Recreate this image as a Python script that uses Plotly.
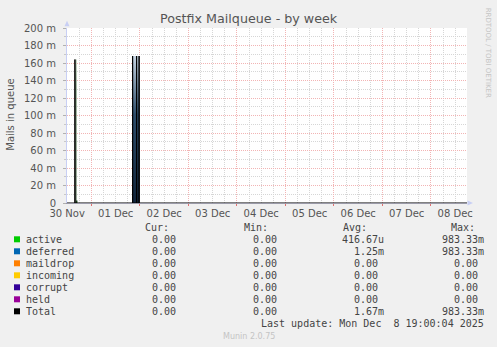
import plotly.graph_objects as go

# ---------------- data ----------------
# Total drawn as thin vertical spikes (time, value) pairs
total_t = ["2025-11-30 11:55", "2025-11-30 15:50", "2025-11-30 15:50", "2025-11-30 15:50",
           "2025-12-01 20:23", "2025-12-01 20:23", "2025-12-01 20:23",
           "2025-12-01 22:22", "2025-12-01 22:22", "2025-12-01 22:22",
           "2025-12-01 23:36", "2025-12-01 23:36", "2025-12-01 23:36",
           "2025-12-08 19:00"]
total_v = [0, 0, 0.164, 0,
           0, 0.168, 0,
           0, 0.168, 0,
           0, 0.168, 0,
           0]

active_t = ["2025-11-30 11:55", "2025-11-30 16:05", "2025-11-30 16:35",
            "2025-11-30 17:05", "2025-12-08 19:00"]
active_v = [0, 0.164, 0.003, 0, 0]

deferred_t = ["2025-11-30 11:55", "2025-12-01 20:17", "2025-12-01 23:51",
              "2025-12-08 19:00"]
deferred_v = [0, 0.168, 0, 0]

series_names = ["active", "deferred", "maildrop", "incoming", "corrupt", "held", "Total"]
series_colors = ["#00cc00", "#0066b3", "#ff8000", "#ffcc00", "#330099", "#990099", "#000000"]
cur_vals = ["0.00", "0.00", "0.00", "0.00", "0.00", "0.00", "0.00"]
min_vals = ["0.00", "0.00", "0.00", "0.00", "0.00", "0.00", "0.00"]
avg_vals = ["416.67u", "1.25m", "0.00", "0.00", "0.00", "0.00", "1.67m"]
max_vals = ["983.33m", "983.33m", "0.00", "0.00", "0.00", "0.00", "983.33m"]

y_tickvals = [0, 0.02, 0.04, 0.06, 0.08, 0.10, 0.12, 0.14, 0.16, 0.18, 0.20]
y_ticktext = ["0", "20 m", "40 m", "60 m", "80 m", "100 m", "120 m", "140 m",
              "160 m", "180 m", "200 m"]
x_days = ["2025-11-30", "2025-12-01", "2025-12-02", "2025-12-03", "2025-12-04",
          "2025-12-05", "2025-12-06", "2025-12-07", "2025-12-08"]
x_ticktext = ["30 Nov", "01 Dec", "02 Dec", "03 Dec", "04 Dec", "05 Dec",
              "06 Dec", "07 Dec", "08 Dec"]
x_range = ["2025-11-30 11:55", "2025-12-08 17:52"]

title = "Postfix Mailqueue - by week"
y_title = "Mails in queue"
last_update = "Last update: Mon Dec  8 19:00:04 2025"
credit = "RRDTOOL / TOBI OETIKER"
version = "Munin 2.0.75"

# ---------------- layout helpers ----------------
W, H = 497, 347
L, R, T, B = 67, 467, 28.3, 203.3


def px(x):
    return (x - L) / (R - L)


def py(y):
    return (B - y) / (B - T)


TXT = "#444444"
MONO = "DejaVu Sans Mono"
SANS = "DejaVu Sans"

fig = go.Figure()

fig.add_trace(go.Scatter(
    x=active_t, y=active_v, mode="lines", line=dict(width=0, shape="hv"),
    fill="tozeroy",
    fillgradient=dict(type="vertical",
                      colorscale=[[0, "#163a16"], [0.8, "#2e5e2e"], [1, "#7fa07f"]]),
    hoverinfo="skip", showlegend=False))
fig.add_trace(go.Scatter(
    x=deferred_t, y=deferred_v, mode="lines", line=dict(width=0, shape="hv"),
    fill="tozeroy",
    fillgradient=dict(type="vertical",
                      colorscale=[[0, "#10243a"], [0.6, "#2c4c6a"], [1, "#c8d6e4"]]),
    hoverinfo="skip", showlegend=False))
fig.add_trace(go.Scatter(
    x=total_t, y=total_v, mode="lines", xaxis="x2",
    line=dict(width=1, shape="linear", color="#000000"),
    hoverinfo="skip", showlegend=False))

grid_red = "#f2b4b4"
grid_gray = "#d6d6d6"

y_minor = [(a + b) / 2 for a, b in zip(y_tickvals[:-1], y_tickvals[1:])]

fig.update_layout(
    width=W, height=H,
    margin=dict(l=L, r=W - R, t=T, b=H - B, pad=0),
    paper_bgcolor="#f0f0f0", plot_bgcolor="#ffffff",
    xaxis=dict(
        type="date", range=x_range,
        tickvals=[d + " 00:00" for d in x_days[1:]],
        showticklabels=False, ticks="outside", ticklen=2, tickcolor="#e07070",
        showgrid=True, gridcolor=grid_red, griddash="1px,1px", gridwidth=1,
        minor=dict(dtick=6 * 3600 * 1000, tick0="2025-11-30 00:00",
                   showgrid=True, gridcolor=grid_gray, griddash="1px,1px", ticks=""),
        showline=True, linecolor="#9a9aa8", linewidth=1,
        zeroline=False, fixedrange=True,
    ),
    xaxis2=dict(
        type="date", range=x_range, overlaying="x", side="bottom",
        tickvals=[d + " 12:00" for d in x_days], ticktext=x_ticktext,
        ticks="", showgrid=False, showline=False, zeroline=False,
        ticklabelstandoff=3,
        tickfont=dict(family=SANS, size=10, color="#555555"),
    ),
    yaxis=dict(
        range=[0, 0.2], tickvals=y_tickvals, ticktext=y_ticktext,
        tickfont=dict(family=SANS, size=10, color="#555555"),
        ticks="outside", ticklen=3, tickcolor="#b0b0b0",
        showgrid=True, gridcolor=grid_red, griddash="1px,1px",
        minor=dict(tickvals=y_minor, showgrid=True, gridcolor=grid_gray,
                   griddash="1px,1px", ticks="outside", ticklen=2, tickcolor="#c8c8c8"),
        showline=True, linecolor="#c8cff4", linewidth=1,
        zeroline=False, ticklabelstandoff=5,
    ),
    showlegend=False,
)

ann = []


def text(x, y, s, size=10, family=MONO, color=TXT, xanchor="left", angle=0):
    ann.append(dict(xref="paper", yref="paper", x=px(x), y=py(y), text=s,
                    showarrow=False, xanchor=xanchor, yanchor="middle",
                    font=dict(family=family, size=size, color=color),
                    borderpad=0, borderwidth=0, textangle=angle))


text(248.5, 19, title, size=12.7, family=SANS, color="#555555", xanchor="center")
text(11, 115, y_title, size=10, family=SANS, color="#555555", xanchor="center", angle=-90)
text(488, 53, credit, size=7, family=SANS, color="#c4c4c4", xanchor="center", angle=90)

row0, dy = 239.6, 12.0
text(157, 227.3, "Cur:", xanchor="center")
text(256, 227.3, "Min:", xanchor="center")
text(355, 227.3, "Avg:", xanchor="center")
text(463, 227.3, "Max:", xanchor="center")

NB = "\u00a0"


def unit(s):
    return s if s[-1].isalpha() else s + NB


shapes = []
for i, name in enumerate(series_names):
    yy = row0 + dy * i
    shapes.append(dict(type="rect", xref="paper", yref="paper",
                       x0=px(14), x1=px(20), y0=py(yy - 3), y1=py(yy + 3),
                       fillcolor=series_colors[i], line=dict(width=0)))
    text(25.5, yy, name)
    text(176, yy, cur_vals[i], xanchor="right")
    text(276.5, yy, min_vals[i], xanchor="right")
    text(383.5, yy, unit(avg_vals[i]), xanchor="right")
    text(483.5, yy, unit(max_vals[i]), xanchor="right")

text(483.5, 323.5, last_update.replace("  ", " " + NB), xanchor="right")
text(249, 336.5, version, size=8, family=SANS, color="#c4c4c4", xanchor="center")

# axis arrows
shapes.append(dict(type="path", xref="paper", yref="paper",
                   path=f"M {px(64.5)} {py(26.5)} L {px(69.5)} {py(26.5)} L {px(67)} {py(21)} Z",
                   fillcolor="#c8cff4", line=dict(width=0)))
shapes.append(dict(type="path", xref="paper", yref="paper",
                   path=f"M {px(467.5)} {py(200.8)} L {px(467.5)} {py(205.8)} L {px(473)} {py(203.3)} Z",
                   fillcolor="#c8cff4", line=dict(width=0)))

fig.update_layout(annotations=ann, shapes=shapes)

fig.write_html("out.html")
